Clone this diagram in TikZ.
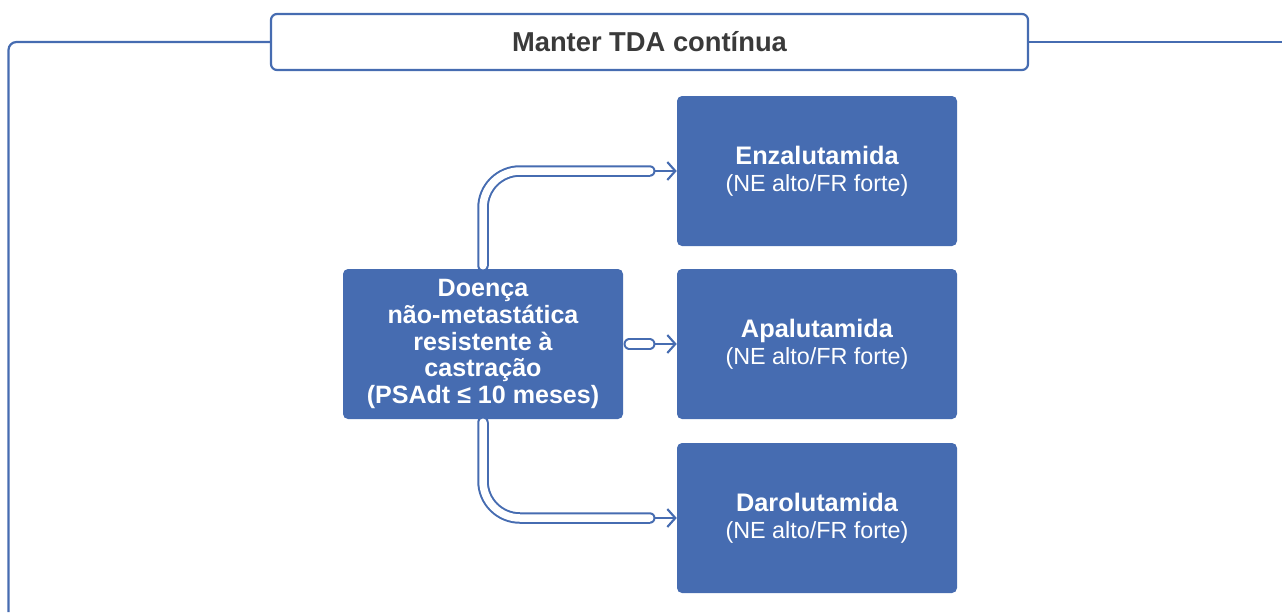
\documentclass[tikz,border=0pt]{standalone}
\usepackage{fontspec}
\setmainfont{Liberation Sans}
\usetikzlibrary{arrows.meta}
\newlength\px
\setlength\px{0.75pt}
\definecolor{mblue}{RGB}{70,108,177}
\definecolor{tgray}{RGB}{58,58,58}
\newcommand{\drug}[1]{{\fontsize{19pt}{20.3pt}\selectfont\bfseries #1}\\{\fontsize{17.5pt}{20.3pt}\selectfont (NE alto/FR forte)}}
\begin{document}
\begin{tikzpicture}[x=0.75pt,y=-0.75pt,
  bluebox/.style={fill=mblue,rounded corners=5\px,minimum width=280\px,minimum height=150\px,
    text=white,align=center,inner sep=0pt},
  drugbox/.style={bluebox,font=\fontsize{17.5pt}{20.3pt}\selectfont},
  titlebox/.style={draw=mblue,line width=2.2\px,fill=white,rounded corners=6\px,
    minimum width=757\px,minimum height=56\px,inner sep=0pt,text=tgray,
    font=\fontsize{20.5pt}{24pt}\selectfont\bfseries},
  frame/.style={draw=mblue,line width=2.2\px},
  tube/.style={draw=mblue,line width=2\px,double=white,double distance=7.5\px,
    line cap=round,rounded corners=37\px},
  arr/.style={draw=mblue,line width=1.6pt,-{Straight Barb[length=6pt,width=13.5pt,line width=1.6pt]}}
]
\useasboundingbox (0,0) rectangle (1282,612);
\node[titlebox] (T) at (649.5,42) {Manter TDA contínua};
\coordinate (FL) at (8.5,612);
\coordinate (FR) at (1282,42);
\draw[frame,rounded corners=8\px] (FL) |- (T.west);
\draw[frame] (T.east) -- (FR);

\node[drugbox] (E) at (817,171) {\drug{Enzalutamida}};
\node[drugbox] (A) at (817,344) {\drug{Apalutamida}};
\node[drugbox] (D) at (817,518) {\drug{Darolutamida}};
\node[bluebox,font=\fontsize{18.8pt}{19.9pt}\selectfont\bfseries] (L) at (483,344)
  {Doença\\não-metastática\\resistente à\\castração\\(PSAdt ≤ 10 meses)};

\coordinate (E1) at ([xshift=-27\px]E.west);
\coordinate (A1) at ([xshift=-27\px]A.west);
\coordinate (D1) at ([xshift=-27\px]D.west);
\coordinate (L1) at ([yshift=3\px]L.north);
\coordinate (L2) at ([xshift=6\px]L.east);
\coordinate (L3) at ([yshift=-3\px]L.south);

\draw[arr] (E1) -- (E.west);
\draw[arr] (A1) -- (A.west);
\draw[arr] (D1) -- (D.west);
\draw[tube] (L1) |- (E1);
\draw[tube] (L2) -- (A1);
\draw[tube] (L3) |- (D1);
\end{tikzpicture}
\end{document}
